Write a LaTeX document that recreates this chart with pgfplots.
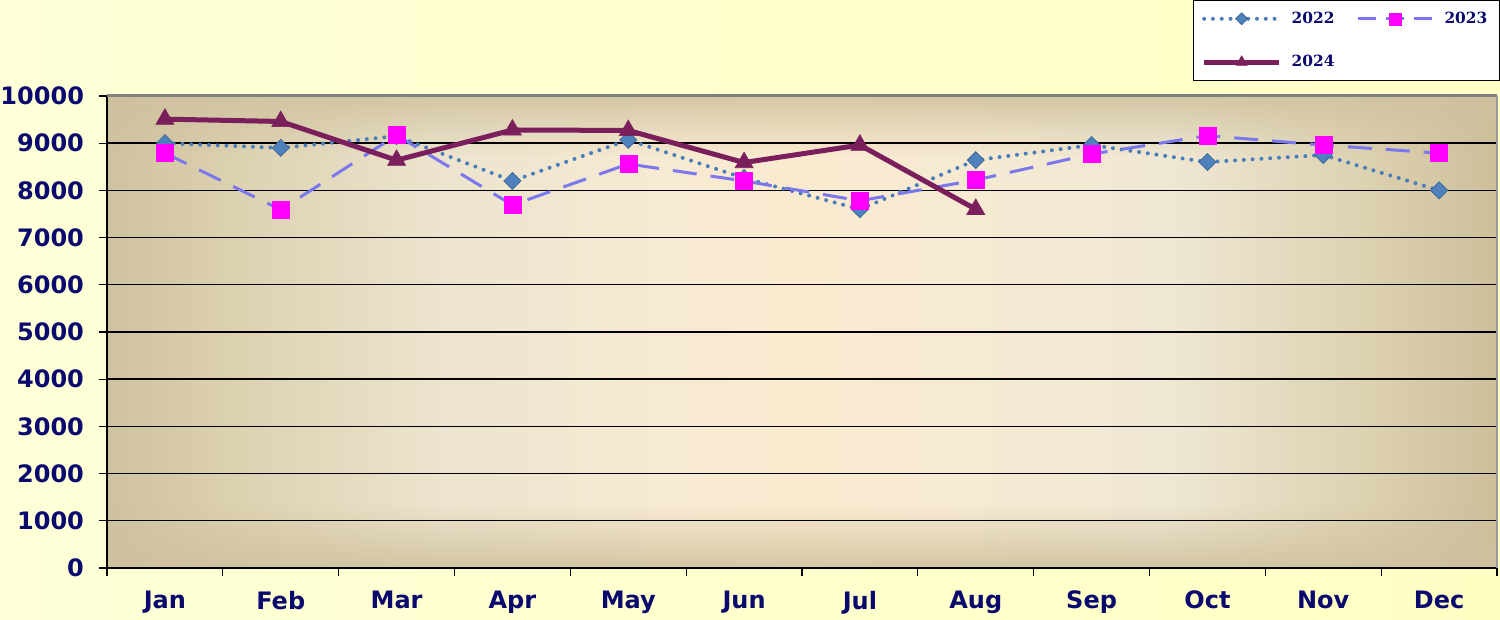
\documentclass[border=0pt]{standalone}
\usepackage{pgfplots}
\pgfplotsset{compat=1.18}
\usetikzlibrary{fadings}
\usepackage{fontspec}
\setmainfont{DejaVu Sans}
\newfontfamily\legfont{DejaVu Serif}
\definecolor{navy}{HTML}{0A0A6E}
\definecolor{pagebg}{HTML}{FFFFD8}
\definecolor{pagebgR}{HTML}{FFFFC4}
\definecolor{h0}{HTML}{CFC29F}
\definecolor{h1}{HTML}{DDD2B2}
\definecolor{h2}{HTML}{ECE4CE}
\definecolor{h3}{HTML}{F7EAD2}
\definecolor{h4}{HTML}{FAEBD0}
\definecolor{h5}{HTML}{EFE8D4}
\definecolor{h6}{HTML}{CDBF9A}
\definecolor{edgeTB}{HTML}{CFC19D}
\definecolor{c22}{HTML}{4A7EBB}
\definecolor{c22m}{HTML}{4F81BD}
\definecolor{c23}{HTML}{7B78EE}
\definecolor{c23m}{HTML}{FF00FF}
\definecolor{c24}{HTML}{7A1E5C}
\pgfdeclarehorizontalshading{hbg}{100bp}{color(0bp)=(h0); color(25bp)=(h0); color(30bp)=(h1); color(37bp)=(h2); color(45bp)=(h3); color(50bp)=(h4); color(55bp)=(h3); color(63bp)=(h5); color(70bp)=(h1); color(75bp)=(h6); color(100bp)=(h6)}
\tikzfading[name=fadetop, top color=transparent!0, bottom color=transparent!100]
\tikzfading[name=fadebottom, top color=transparent!100, bottom color=transparent!0]
\begin{document}
\begin{tikzpicture}
\shade[left color=pagebg, right color=pagebgR] (0,0) rectangle (750pt,310pt);
\shade[shading=hbg] (53.5pt,26pt) rectangle (748.5pt,262pt);
\fill[edgeTB, path fading=fadetop, fill opacity=0.85] (53.5pt,232pt) rectangle (748.5pt,262pt);
\fill[edgeTB, path fading=fadebottom, fill opacity=0.85] (53.5pt,26pt) rectangle (748.5pt,58pt);
\begin{axis}[
  at={(53.5pt,26pt)}, anchor=south west,
  scale only axis, width=695pt, height=236pt,
  xmin=-0.5, xmax=11.5, ymin=0, ymax=10000,
  axis x line*=bottom, axis y line*=left,
  axis line style={black, line width=0.8pt},
  xtick={0,...,11},
  xticklabels={Jan,Feb,Mar,Apr,May,Jun,Jul,Aug,Sep,Oct,Nov,Dec},
  minor xtick={-0.5,0.5,...,11.5},
  major x tick style={draw=none},
  minor x tick style={black, line width=0.6pt},
  minor tick length=4pt,
  ytick={0,1000,...,10000},
  y tick style={black, line width=0.6pt},
  major tick length=4pt,
  tick align=outside,
  ymajorgrids, grid style={black, line width=0.7pt},
  scaled y ticks=false,
  yticklabel={\pgfmathprintnumber[fixed,1000 sep={}]{\tick}},
  /pgf/number format/assume math mode=true,
  ticklabel style={font=\fontsize{12}{14}\selectfont\bfseries, text=navy},
  yticklabel style={xshift=-4pt},
  xticklabel style={yshift=-4pt},
  legend columns=2,
  legend style={at={(1.002,1.203)}, anchor=north east, draw=black, fill=white,
    font=\legfont\fontsize{7.7}{9}\selectfont\bfseries, text=navy,
    row sep=10.5pt, inner xsep=4pt, inner ysep=3.5pt,
    /tikz/every odd column/.append style={column sep=3pt},
    /tikz/every even column/.append style={column sep=9pt}},
  legend image code/.code={\draw[mark repeat=2,mark phase=2,#1] plot coordinates {(0pt,0pt) (18.75pt,0pt) (37.5pt,0pt)};},
  clip=false,
]
\addplot[c22, line width=2pt, line cap=round, dash pattern=on 0pt off 4.4pt,
  mark=square*, mark size=3pt, mark options={solid, rotate=45, fill=c22m, draw=c22m!80!black, line width=0.4pt},
  legend image post style={mark size=2.1pt}]
  coordinates {(0,9000) (1,8900) (2,9150) (3,8200) (4,9070) (5,8260) (6,7600) (7,8640) (8,8960) (9,8600) (10,8750) (11,8000)};
\addlegendentry{2022}
\addplot[c23, line width=1.5pt, dash pattern=on 12pt off 7pt,
  mark=square*, mark size=4.25pt, mark options={solid, fill=c23m, draw=c23m, line width=0.2pt},
  legend image post style={mark size=3pt, dash pattern=on 9pt off 5pt}]
  coordinates {(0,8790) (1,7590) (2,9170) (3,7690) (4,8560) (5,8200) (6,7780) (7,8220) (8,8770) (9,9160) (10,8960) (11,8790)};
\addlegendentry{2023}
\addplot[c24, line width=2.5pt,
  mark=triangle*, mark size=5.2pt, mark options={solid, fill=c24, draw=c24, line width=0.3pt},
  legend image post style={mark size=3.2pt}]
  coordinates {(0,9510) (1,9460) (2,8640) (3,9280) (4,9270) (5,8590) (6,8960) (7,7600)};
\addlegendentry{2024}
\draw[gray, line width=1.5pt] (rel axis cs:0,1) -- (rel axis cs:1,1);
\draw[gray!80, line width=1pt] (rel axis cs:1,0) -- (rel axis cs:1,1);
\end{axis}
\pgfresetboundingbox
\path (0,0) rectangle (750pt,310pt);
\end{tikzpicture}
\end{document}
